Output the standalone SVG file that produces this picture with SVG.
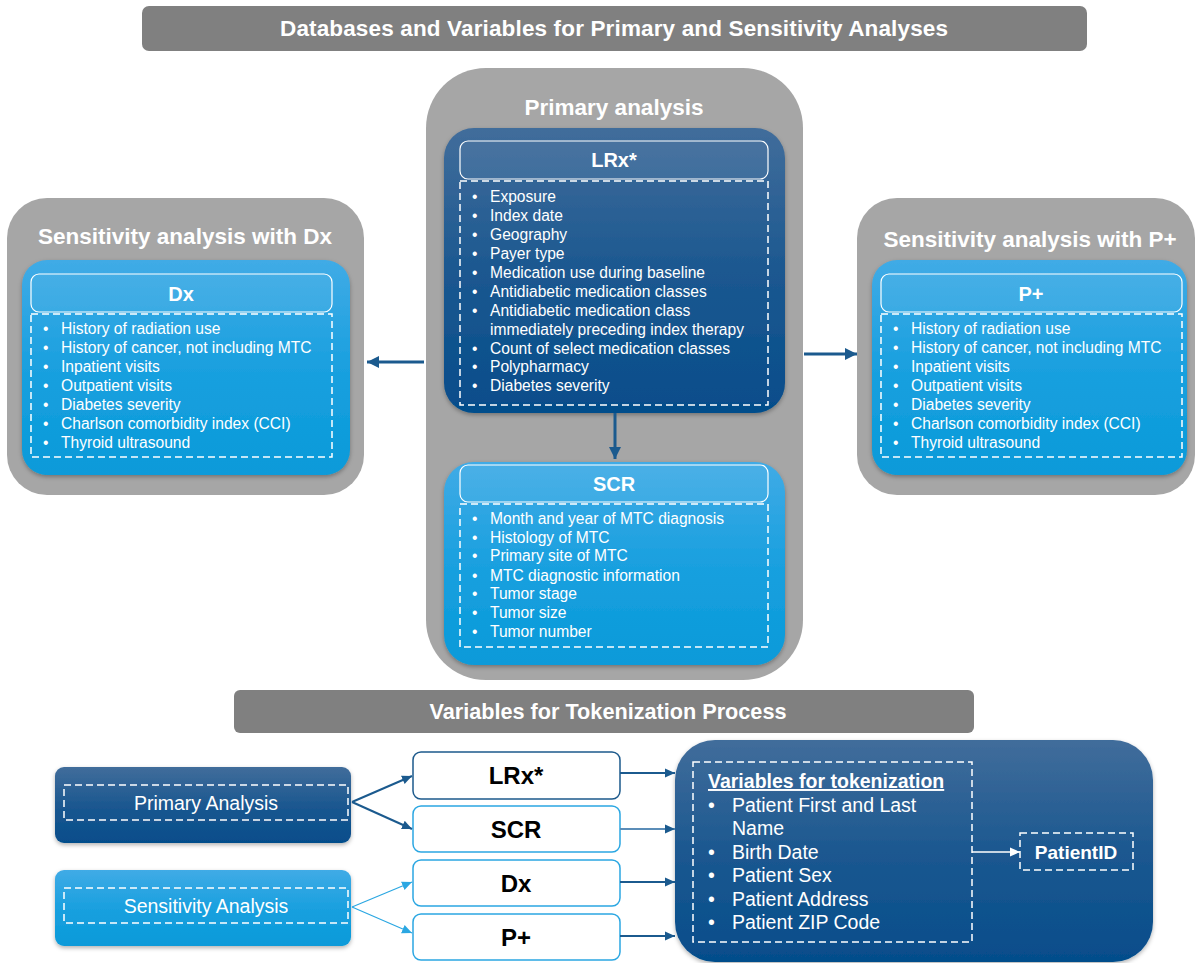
<svg xmlns="http://www.w3.org/2000/svg" width="1198" height="963" viewBox="0 0 1198 963">
<defs>
<linearGradient id="gDark" x1="0" y1="0" x2="0" y2="1">
<stop offset="0" stop-color="#416d9b"/>
<stop offset="0.5" stop-color="#1c5890"/>
<stop offset="1" stop-color="#054d8b"/>
</linearGradient>
<linearGradient id="gLight" x1="0" y1="0" x2="0" y2="1">
<stop offset="0" stop-color="#40abe6"/>
<stop offset="0.5" stop-color="#1aa0df"/>
<stop offset="1" stop-color="#079ad9"/>
</linearGradient>
<filter id="sh" x="-10%" y="-10%" width="120%" height="125%">
<feDropShadow dx="0" dy="2" stdDeviation="2" flood-color="#000" flood-opacity="0.3"/>
</filter>
<marker id="aDark" markerUnits="userSpaceOnUse" markerWidth="14" markerHeight="14" refX="12" refY="7" orient="auto">
<path d="M0,1 L12,7 L0,13 Z" fill="#1b5a8e"/>
</marker>
<marker id="aDarkS" markerUnits="userSpaceOnUse" markerWidth="12" markerHeight="12" refX="10" refY="6" orient="auto">
<path d="M0,1.5 L10,6 L0,10.5 Z" fill="#1b5a8e"/>
</marker>
<marker id="aLight" markerUnits="userSpaceOnUse" markerWidth="12" markerHeight="12" refX="10" refY="6" orient="auto">
<path d="M0,1.5 L10,6 L0,10.5 Z" fill="#2ba7e2"/>
</marker>
<marker id="aWhite" markerUnits="userSpaceOnUse" markerWidth="12" markerHeight="12" refX="10" refY="6" orient="auto">
<path d="M0,1.5 L10,6 L0,10.5 Z" fill="#ffffff"/>
</marker>
</defs>
<style>
.banner{fill:#808080;}
.gray{fill:#a6a6a6;}
.bt{font-family:"Liberation Sans",Arial,sans-serif;font-weight:bold;fill:#fff;text-anchor:middle;}
.t{font-family:"Liberation Sans",Arial,sans-serif;fill:#fff;font-size:15.6px;}
.hdr{fill:#ffffff;fill-opacity:0.06;stroke:#fff;stroke-width:1.2;}
.dash{fill:none;stroke:#fff;stroke-width:1.5;stroke-dasharray:7,4;}
.wbox{fill:#fff;stroke-width:1.5;}
.bk{font-family:"Liberation Sans",Arial,sans-serif;font-weight:bold;fill:#000;text-anchor:middle;font-size:24px;}
.tk{font-family:"Liberation Sans",Arial,sans-serif;fill:#fff;font-size:19.5px;}
</style>

<g id="banner-top">
<rect class="banner" x="142" y="6" width="945" height="45" rx="7"/>
<text class="bt" x="614" y="36" font-size="22.5" textLength="668" lengthAdjust="spacing">Databases and Variables for Primary and Sensitivity Analyses</text>
</g>

<g id="primary-analysis">
<rect class="gray" x="426" y="68" width="377" height="612" rx="60"/>
<text class="bt" x="614" y="115" font-size="22.5">Primary analysis</text>
</g>

<g id="lrx">
<rect x="444" y="128" width="341" height="285" rx="30" fill="url(#gDark)" filter="url(#sh)"/>
<rect class="hdr" x="460" y="141" width="308" height="38" rx="8"/>
<text class="bt" x="614" y="167" font-size="20">LRx*</text>
<rect class="dash" x="460" y="181" width="308" height="224"/>
<g class="t">
<text x="472" y="201.5">•</text><text x="490" y="201.5">Exposure</text>
<text x="472" y="220.5">•</text><text x="490" y="220.5">Index date</text>
<text x="472" y="239.5">•</text><text x="490" y="239.5">Geography</text>
<text x="472" y="258.5">•</text><text x="490" y="258.5">Payer type</text>
<text x="472" y="277.5">•</text><text x="490" y="277.5">Medication use during baseline</text>
<text x="472" y="296.5">•</text><text x="490" y="296.5">Antidiabetic medication classes</text>
<text x="472" y="315.5">•</text><text x="490" y="315.5">Antidiabetic medication class</text>
<text x="490" y="334.5">immediately preceding index therapy</text>
<text x="472" y="353.5">•</text><text x="490" y="353.5">Count of select medication classes</text>
<text x="472" y="372">•</text><text x="490" y="372">Polypharmacy</text>
<text x="472" y="391">•</text><text x="490" y="391">Diabetes severity</text>
</g>
</g>

<g id="scr">
<rect x="444" y="462" width="341" height="203" rx="30" fill="url(#gLight)" filter="url(#sh)"/>
<rect class="hdr" x="460" y="465" width="308" height="37" rx="8"/>
<text class="bt" x="614" y="491" font-size="20">SCR</text>
<rect class="dash" x="460" y="504" width="308" height="143"/>
<g class="t">
<text x="472" y="523.5">•</text><text x="490" y="523.5">Month and year of MTC diagnosis</text>
<text x="472" y="542.5">•</text><text x="490" y="542.5">Histology of MTC</text>
<text x="472" y="560.5">•</text><text x="490" y="560.5">Primary site of MTC</text>
<text x="472" y="580.5">•</text><text x="490" y="580.5">MTC diagnostic information</text>
<text x="472" y="598.5">•</text><text x="490" y="598.5">Tumor stage</text>
<text x="472" y="617.5">•</text><text x="490" y="617.5">Tumor size</text>
<text x="472" y="636.5">•</text><text x="490" y="636.5">Tumor number</text>
</g>
</g>

<g id="sens-dx">
<rect class="gray" x="7" y="198" width="357" height="297" rx="40"/>
<text class="bt" x="185" y="244" font-size="22.5">Sensitivity analysis with Dx</text>
<rect x="22" y="260" width="328" height="215" rx="25" fill="url(#gLight)" filter="url(#sh)"/>
<rect class="hdr" x="31" y="274" width="301" height="38" rx="8"/>
<text class="bt" x="181" y="301" font-size="20">Dx</text>
<rect class="dash" x="31" y="314" width="301" height="143"/>
<g class="t">
<text x="43" y="333.5">•</text><text x="61" y="333.5">History of radiation use</text>
<text x="43" y="352.5">•</text><text x="61" y="352.5">History of cancer, not including MTC</text>
<text x="43" y="371.5">•</text><text x="61" y="371.5">Inpatient visits</text>
<text x="43" y="390.5">•</text><text x="61" y="390.5">Outpatient visits</text>
<text x="43" y="409.5">•</text><text x="61" y="409.5">Diabetes severity</text>
<text x="43" y="428.5">•</text><text x="61" y="428.5">Charlson comorbidity index (CCI)</text>
<text x="43" y="447.5">•</text><text x="61" y="447.5">Thyroid ultrasound</text>
</g>
</g>

<g id="sens-p">
<rect class="gray" x="857" y="198" width="338" height="297" rx="40"/>
<text class="bt" x="1030" y="247" font-size="22.5">Sensitivity analysis with P+</text>
<rect x="872" y="260" width="315" height="215" rx="25" fill="url(#gLight)" filter="url(#sh)"/>
<rect class="hdr" x="881" y="274" width="301" height="38" rx="8"/>
<text class="bt" x="1031" y="301" font-size="20">P+</text>
<rect class="dash" x="881" y="314" width="301" height="143"/>
<g class="t">
<text x="893" y="333.5">•</text><text x="911" y="333.5">History of radiation use</text>
<text x="893" y="352.5">•</text><text x="911" y="352.5">History of cancer, not including MTC</text>
<text x="893" y="371.5">•</text><text x="911" y="371.5">Inpatient visits</text>
<text x="893" y="390.5">•</text><text x="911" y="390.5">Outpatient visits</text>
<text x="893" y="409.5">•</text><text x="911" y="409.5">Diabetes severity</text>
<text x="893" y="428.5">•</text><text x="911" y="428.5">Charlson comorbidity index (CCI)</text>
<text x="893" y="447.5">•</text><text x="911" y="447.5">Thyroid ultrasound</text>
</g>
</g>

<g id="banner-token">
<rect class="banner" x="234" y="690" width="740" height="43" rx="6"/>
<text class="bt" x="608" y="719" font-size="22" textLength="357" lengthAdjust="spacingAndGlyphs">Variables for Tokenization Process</text>
</g>

<g id="primary-btn">
<rect x="55" y="767" width="296" height="76" rx="9" fill="url(#gDark)" filter="url(#sh)"/>
<rect class="dash" x="64" y="785" width="284" height="35"/>
<text x="206" y="810" font-family="'Liberation Sans',Arial,sans-serif" font-size="19.5" fill="#fff" text-anchor="middle">Primary Analysis</text>
</g>

<g id="sensitivity-btn">
<rect x="55" y="870" width="296" height="76" rx="9" fill="url(#gLight)" filter="url(#sh)"/>
<rect class="dash" x="64" y="888" width="284" height="35"/>
<text x="206" y="913" font-family="'Liberation Sans',Arial,sans-serif" font-size="19.5" fill="#fff" text-anchor="middle">Sensitivity Analysis</text>
</g>

<g id="lrx-box">
<rect class="wbox" x="413" y="752" width="207" height="47" rx="8" stroke="#1d5a8c"/>
<text class="bk" x="516" y="784">LRx*</text>
</g>
<g id="scr-box">
<rect class="wbox" x="413" y="806" width="207" height="46" rx="8" stroke="#2ba7e2"/>
<text class="bk" x="516" y="838">SCR</text>
</g>
<g id="dx-box">
<rect class="wbox" x="413" y="860" width="207" height="46" rx="8" stroke="#2ba7e2"/>
<text class="bk" x="516" y="892">Dx</text>
</g>
<g id="p-box">
<rect class="wbox" x="413" y="914" width="207" height="46" rx="8" stroke="#2ba7e2"/>
<text class="bk" x="516" y="946">P+</text>
</g>

<g id="tokenization">
<rect x="675" y="740" width="478" height="222" rx="40" fill="url(#gDark)" filter="url(#sh)"/>
<rect class="dash" x="693" y="762" width="279" height="180"/>
<text x="708" y="788" font-family="'Liberation Sans',Arial,sans-serif" font-size="19.5" font-weight="bold" fill="#fff" text-decoration="underline">Variables for tokenization</text>
<g class="tk">
<text x="708" y="812">•</text><text x="732" y="812">Patient First and Last</text>
<text x="732" y="835">Name</text>
<text x="708" y="859">•</text><text x="732" y="859">Birth Date</text>
<text x="708" y="882">•</text><text x="732" y="882">Patient Sex</text>
<text x="708" y="906">•</text><text x="732" y="906">Patient Address</text>
<text x="708" y="929">•</text><text x="732" y="929">Patient ZIP Code</text>
</g>
</g>

<g id="patientid">
<rect class="dash" x="1020" y="833" width="113" height="37"/>
<text x="1076" y="859" font-family="'Liberation Sans',Arial,sans-serif" font-size="19" font-weight="bold" fill="#fff" text-anchor="middle">PatientID</text>
</g>

<g id="connectors" fill="none">
<line x1="424" y1="362" x2="367" y2="362" stroke="#1b5a8e" stroke-width="3" marker-end="url(#aDark)"/>
<line x1="804" y1="354" x2="857" y2="354" stroke="#1b5a8e" stroke-width="3" marker-end="url(#aDark)"/>
<line x1="615" y1="413" x2="615" y2="459" stroke="#1b5a8e" stroke-width="3" marker-end="url(#aDark)"/>
<line x1="352" y1="802" x2="412" y2="776" stroke="#1b5a8e" stroke-width="2" marker-end="url(#aDarkS)"/>
<line x1="352" y1="802" x2="412" y2="829" stroke="#1b5a8e" stroke-width="2" marker-end="url(#aDarkS)"/>
<line x1="352" y1="907" x2="412" y2="882" stroke="#2ba7e2" stroke-width="1.2" marker-end="url(#aLight)"/>
<line x1="352" y1="907" x2="412" y2="933" stroke="#2ba7e2" stroke-width="1.2" marker-end="url(#aLight)"/>
<line x1="620" y1="773" x2="675" y2="773" stroke="#1b5a8e" stroke-width="1.8" marker-end="url(#aDarkS)"/>
<line x1="620" y1="829" x2="675" y2="829" stroke="#5b8db8" stroke-width="1.8" marker-end="url(#aDarkS)"/>
<line x1="620" y1="882" x2="675" y2="882" stroke="#1b5a8e" stroke-width="1.8" marker-end="url(#aDarkS)"/>
<line x1="620" y1="936" x2="675" y2="936" stroke="#1b5a8e" stroke-width="1.8" marker-end="url(#aDarkS)"/>
<line x1="972" y1="852" x2="1020" y2="852" stroke="#fff" stroke-width="1.5" marker-end="url(#aWhite)"/>
</g>
</svg>
